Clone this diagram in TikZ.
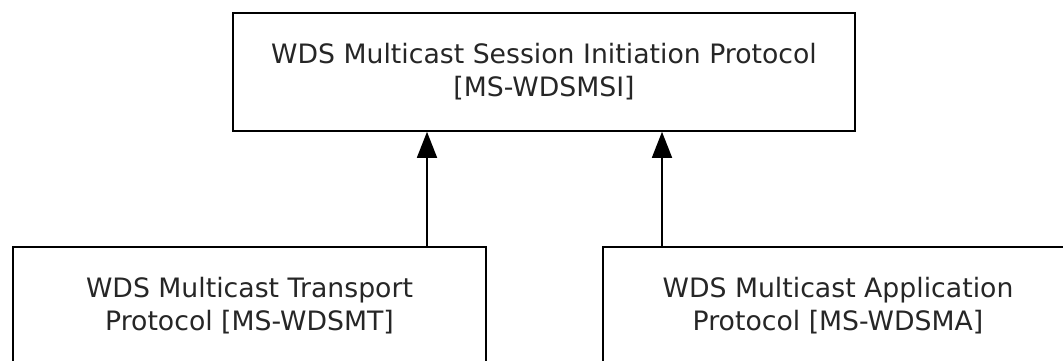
\documentclass[tikz,border=0pt]{standalone}
\usepackage{fontspec}
\setmainfont{DejaVu Sans}
\usetikzlibrary{arrows.meta}
\begin{document}
\begin{tikzpicture}[x=1pt,y=-1pt,
  box/.style={draw=black, line width=1.6pt, align=center, inner sep=0pt,
    font=\fontsize{26.7}{33}\selectfont, text=black!85},
  arr/.style={line width=1.6pt, -{Triangle[length=26pt,width=20pt]}}]
\useasboundingbox (0,0) rectangle (1063,361);
\node[box, minimum width=622pt, minimum height=118pt] (top) at (544,72)
  {WDS Multicast Session Initiation Protocol\\{}[MS-WDSMSI]};
\node[box, minimum width=473pt, minimum height=118pt] (tl) at (249.5,306)
  {WDS Multicast Transport\\Protocol [MS-WDSMT]};
\node[box, minimum width=470pt, minimum height=118pt] (tr) at (838,306)
  {WDS Multicast Application\\Protocol [MS-WDSMA]};
\coordinate (a1) at (427,0);
\coordinate (a2) at (662,0);
\draw[arr] (tl.north -| a1) -- (top.south -| a1);
\draw[arr] (tr.north -| a2) -- (top.south -| a2);
\end{tikzpicture}
\end{document}
